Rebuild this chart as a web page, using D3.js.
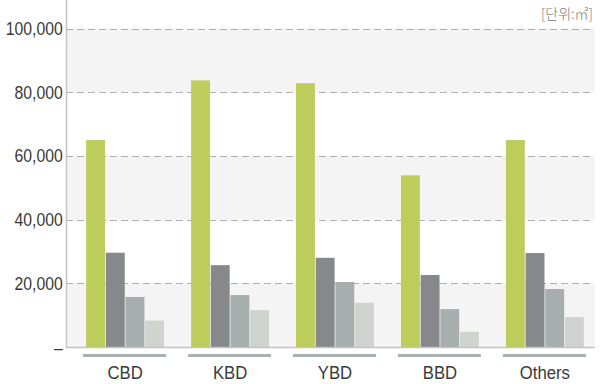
<!DOCTYPE html>
<html>
<head>
  <meta charset="utf-8">
  <title>Office space by district</title>
  <script src="https://d3js.org/d3.v7.min.js"></script>
  <style>
    body { margin: 0; background: #fff; }
    text { font-family: "Liberation Sans", Arial, sans-serif; }
  </style>
</head>
<body>

<div id="chart"></div>

<script>
// Data
const categories = ["CBD", "KBD", "YBD", "BBD", "Others"];
const series1 = [65000, 83700, 82800, 53900, 65000];
const series2 = [29600, 25700, 28000, 22600, 29500];
const series3 = [15700, 16300, 20400, 11900, 18200];
const series4 = [8300, 11600, 13900, 4800, 9400];
const yTicks = [0, 20000, 40000, 60000, 80000, 100000];
const unitLabel = "[단위:㎡]";

const seriesList = [series1, series2, series3, series4];
const colors = ["#bdcd5b", "#87888c", "#a6aeae", "#cfd4ce"];

const W = 601, H = 384;
const plotLeft = 66, plotRight = 595, plotTop = 0, plotBottom = 347;
const squeeze = 0.83; // the reference font is a condensed one

const svg = d3.select("#chart")
  .append("svg")
  .attr("width", W)
  .attr("height", H);

const y = d3.scaleLinear()
  .domain([0, 100000])
  .range([plotBottom, 28.5]);

const x0 = d3.scaleBand()
  .domain(categories)
  .range([72.5, 597.5])
  .paddingInner(0.257)
  .paddingOuter(0.13);

const x1 = d3.scaleBand()
  .domain(d3.range(seriesList.length))
  .range([0, x0.bandwidth()])
  .paddingInner(0.04);

// alternating bands
for (let i = 0; i < yTicks.length - 1; i += 2) {
  svg.append("rect")
    .attr("x", plotLeft)
    .attr("y", y(yTicks[i + 1]))
    .attr("width", plotRight - plotLeft)
    .attr("height", y(yTicks[i]) - y(yTicks[i + 1]))
    .attr("fill", "#f4f4f4");
}

// dashed grid lines
svg.append("g")
  .selectAll("line")
  .data(yTicks.slice(1))
  .join("line")
  .attr("x1", plotLeft)
  .attr("x2", plotRight - 4)
  .attr("y1", d => Math.round(y(d)) + 0.5)
  .attr("y2", d => Math.round(y(d)) + 0.5)
  .attr("stroke", "#b0b0b0")
  .attr("stroke-dasharray", "7,4");

// y axis
const yAxis = d3.axisLeft(y)
  .tickValues(yTicks)
  .tickSize(0)
  .tickPadding(4)
  .tickFormat(d => d === 0 ? "–" : d3.format(",")(d));

const gy = svg.append("g")
  .attr("transform", `translate(${plotLeft},0)`)
  .call(yAxis);
gy.select(".domain").remove();
gy.selectAll("text")
  .attr("font-size", 19)
  .attr("fill", "#3a3a3a")
  .attr("transform", `scale(${squeeze},1)`);

// bars
svg.append("g")
  .selectAll("g")
  .data(categories)
  .join("g")
  .attr("transform", d => `translate(${x0(d)},0)`)
  .selectAll("rect")
  .data((d, i) => seriesList.map((s, k) => ({ k, v: s[i] })))
  .join("rect")
  .attr("x", d => x1(d.k))
  .attr("y", d => y(d.v))
  .attr("width", x1.bandwidth())
  .attr("height", d => y(0) - y(d.v))
  .attr("fill", d => colors[d.k]);

// axis lines
svg.append("line")
  .attr("x1", plotLeft + 0.5).attr("x2", plotLeft + 0.5)
  .attr("y1", plotTop).attr("y2", plotBottom + 1)
  .attr("stroke", "#c4c4c4").attr("stroke-width", 1.5);
svg.append("line")
  .attr("x1", plotLeft).attr("x2", plotRight)
  .attr("y1", plotBottom + 0.5).attr("y2", plotBottom + 0.5)
  .attr("stroke", "#c4c4c4").attr("stroke-width", 1.5);

// category underlines and labels
const gx = svg.append("g");
gx.selectAll("rect")
  .data(categories)
  .join("rect")
  .attr("x", d => x0(d) - 3)
  .attr("y", 354)
  .attr("width", x0.bandwidth() + 5)
  .attr("height", 3)
  .attr("fill", "#a9b1b1");
gx.selectAll("text")
  .data(categories)
  .join("text")
  .attr("transform", d => `translate(${x0(d) + x0.bandwidth() / 2},379) scale(0.88,1)`)
  .attr("text-anchor", "middle")
  .attr("font-size", 19)
  .attr("fill", "#3a3a3a")
  .text(d => d);

// unit label
svg.append("text")
  .attr("x", 593)
  .attr("y", 19)
  .attr("text-anchor", "end")
  .attr("font-size", 14)
  .attr("fill", "#777")
  .style("font-family", "'Noto Sans CJK KR', sans-serif")
  .style("font-weight", 300)
  .text(unitLabel);
</script>

</body>
</html>
